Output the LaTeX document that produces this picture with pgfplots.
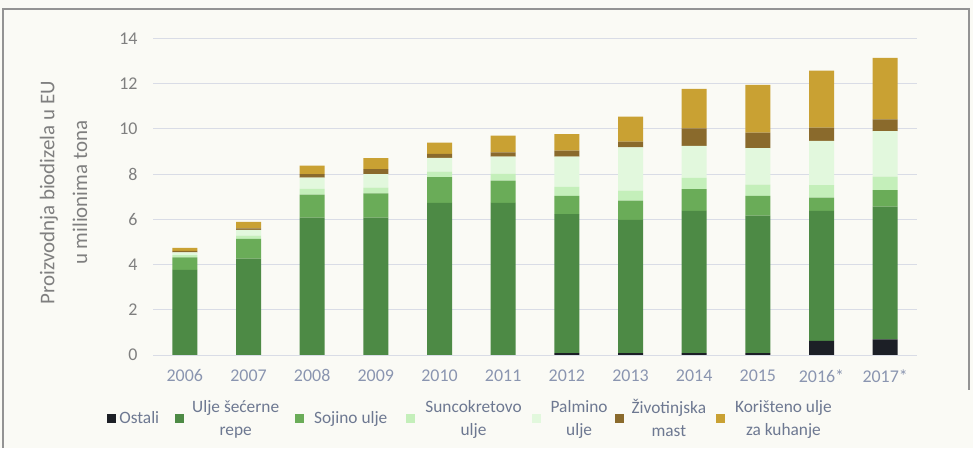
\documentclass[border=0pt]{standalone}
\usepackage{pgfplots}
\pgfplotsset{compat=1.18}
\usepackage{pgfplotstable}
\usepackage{fontspec}
\setmainfont{Carlito}

\definecolor{bgcol}{HTML}{FAFAF5}
\definecolor{gridcol}{HTML}{D9DCE6}
\definecolor{cOst}{HTML}{1C1F26}
\definecolor{cRep}{HTML}{4D8A45}
\definecolor{cSoy}{HTML}{6AAC58}
\definecolor{cSun}{HTML}{C4EFBA}
\definecolor{cPalm}{HTML}{E2F8DD}
\definecolor{cAnim}{HTML}{8A6A2C}
\definecolor{cCook}{HTML}{C9A133}
\definecolor{ytxt}{HTML}{7F7F7F}
\definecolor{xtxt}{HTML}{8A95B0}
\definecolor{legtxt}{HTML}{6D7891}

\pgfplotstableread{
x ost rep soy sun palm anim cook
0  0    3.76 0.56 0.10 0.12 0.06 0.14
1  0    4.26 0.87 0.15 0.25 0.07 0.29
2  0    6.07 1.02 0.25 0.50 0.16 0.37
3  0    6.07 1.08 0.25 0.60 0.22 0.48
4  0    6.73 1.13 0.25 0.60 0.18 0.50
5  0    6.73 0.98 0.30 0.76 0.19 0.74
6  0.08 6.15 0.80 0.40 1.34 0.26 0.73
7  0.08 5.89 0.85 0.45 1.91 0.25 1.11
8  0.08 6.29 0.96 0.50 1.41 0.78 1.74
9  0.08 6.08 0.87 0.50 1.61 0.69 2.11
10 0.62 5.75 0.59 0.55 1.96 0.58 2.52
11 0.69 5.87 0.73 0.60 2.01 0.52 2.72
}\data

\begin{document}
\begin{tikzpicture}
\fill[bgcol] (0bp,0bp) rectangle (973bp,448bp);
\draw[gray!85, line width=2bp] (3bp,0bp) -- (3bp,439bp) -- (969bp,439bp) -- (969bp,58bp);
\begin{axis}[
  scale only axis, width=764bp, height=316.7bp,
  at={(153bp,93bp)}, anchor=south west,
  xmin=-0.5, xmax=11.5, ymin=0, ymax=14,
  ybar stacked, bar width=25bp,
  axis line style={draw=none},
  ymajorgrids, grid style={gridcol, line width=0.8bp},
  ytick={0,2,4,6,8,10,12,14},
  xtick={0,1,2,3,4,5,6,7,8,9,10,11},
  xticklabels={2006,2007,2008,2009,2010,2011,2012,2013,2014,2015,2016*,2017*},
  major tick length=0pt,
  /pgf/number format/assume math mode=true,
  yticklabel style={font=\fontsize{18}{20}\selectfont, text=ytxt, anchor=east, xshift=-12bp},
  xticklabel style={font=\fontsize{18}{20}\selectfont, text=xtxt, anchor=north, yshift=-11bp},
  ylabel={Proizvodnja biodizela u EU\\u milionima tona},
  ylabel style={font=\fontsize{21}{33}\selectfont, text=ytxt, align=center,
    at={(axis description cs:-0.117,0.512)}, anchor=center},
  legend columns=7,
  legend style={draw=none, fill=none, at={(axis description cs:-0.064,-0.127)}, anchor=north west,
    font=\fontsize{17.4}{23}\selectfont, text=legtxt, cells={align=center},
    nodes={inner xsep=0pt},
    /tikz/column 1/.style={column sep=3bp},
    /tikz/column 2/.style={column sep=16bp},
    /tikz/column 3/.style={column sep=8bp},
    /tikz/column 4/.style={column sep=16bp},
    /tikz/column 5/.style={column sep=10bp},
    /tikz/column 6/.style={column sep=19bp},
    /tikz/column 7/.style={column sep=10bp},
    /tikz/column 8/.style={column sep=10bp},
    /tikz/column 9/.style={column sep=10bp},
    /tikz/column 10/.style={column sep=7bp},
    /tikz/column 11/.style={column sep=8bp},
    /tikz/column 12/.style={column sep=10bp},
    /tikz/column 13/.style={column sep=10bp}},
  legend image code/.code={\fill[#1] (0bp,-4.5bp) rectangle (9bp,4.5bp);},
]
\addplot[fill=cOst, draw=none] table[x=x, y=ost] {\data};
\addplot[fill=cRep, draw=none] table[x=x, y=rep] {\data};
\addplot[fill=cSoy, draw=none] table[x=x, y=soy] {\data};
\addplot[fill=cSun, draw=none] table[x=x, y=sun] {\data};
\addplot[fill=cPalm, draw=none] table[x=x, y=palm] {\data};
\addplot[fill=cAnim, draw=none] table[x=x, y=anim] {\data};
\addplot[fill=cCook, draw=none] table[x=x, y=cook] {\data};
\legend{Ostali, Ulje šećerne\\repe, Sojino ulje, Suncokretovo\\ulje, Palmino\\ulje, Životinjska\\mast, Korišteno ulje\\za kuhanje}
\end{axis}
\end{tikzpicture}
\end{document}
